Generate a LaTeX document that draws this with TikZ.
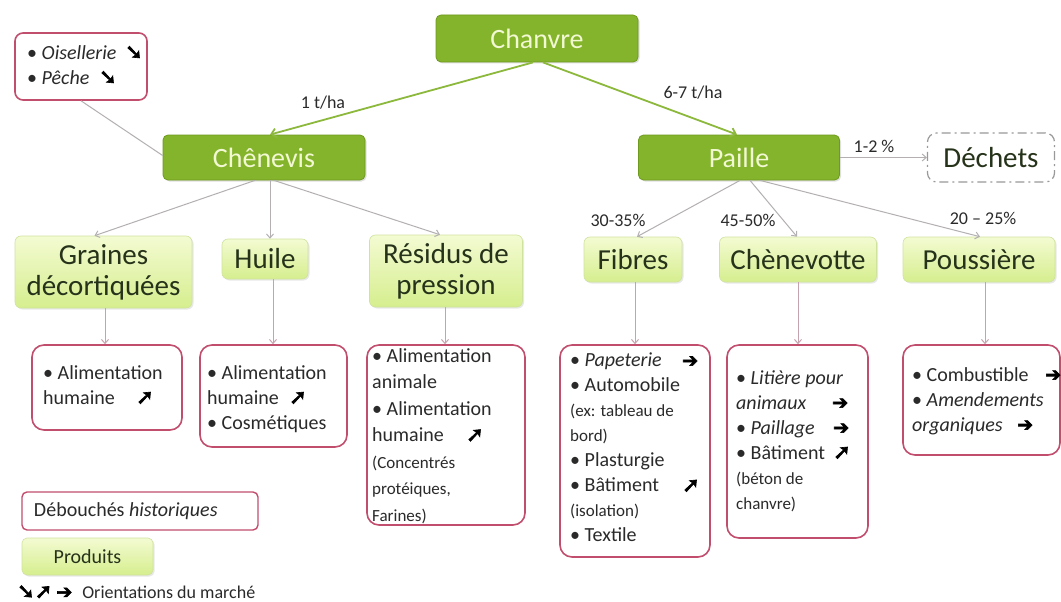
\documentclass[tikz,border=0pt]{standalone}
\usepackage{fontspec}
\setmainfont{Carlito}
\newfontfamily\dvheavy[FakeBold=3]{DejaVu Sans}
\usetikzlibrary{arrows.meta,shadows}
\definecolor{dgreen}{HTML}{84B42C}
\definecolor{dgreenb}{HTML}{6E9A1E}
\definecolor{dtext}{HTML}{F2F8D2}
\definecolor{lgA}{HTML}{F3FBD2}
\definecolor{lgB}{HTML}{D6EE8E}
\definecolor{lgb}{HTML}{CFE39E}
\definecolor{ltext}{HTML}{26331A}
\definecolor{pinkb}{HTML}{C24E6E}
\definecolor{txt}{HTML}{2A2A2A}
\definecolor{garr}{HTML}{8CB83C}
\definecolor{gline}{HTML}{B4B0B2}
\definecolor{pline}{HTML}{C4A2AE}
\newcommand\arrdn{{\dvheavy\fontsize{21}{21}\selectfont\color{black}➘}}
\newcommand\arrup{{\dvheavy\fontsize{21}{21}\selectfont\color{black}➚}}
\newcommand\arrrt{{\dvheavy\fontsize{19}{19}\selectfont\color{black}➔}}
\newcommand\smtxt{\fontsize{17}{22}\selectfont}
\newcommand\lw[2]{\makebox[#1pt][l]{#2}}
\tikzset{
  darkbox/.style={rectangle, rounded corners=5pt, fill=dgreen, draw=dgreenb, line width=0.8pt,
    text=dtext, font=\fontsize{28}{30}\selectfont, inner sep=0pt,
    drop shadow={opacity=0.25, shadow xshift=1.5pt, shadow yshift=-1.5pt}},
  lightbox/.style={rectangle, rounded corners=6pt, top color=lgA, bottom color=lgB, draw=lgb,
    line width=0.6pt, text=ltext, font=\fontsize{29}{31}\selectfont, align=center, inner sep=0pt,
    drop shadow={opacity=0.18, shadow xshift=1.5pt, shadow yshift=-1.5pt}},
  histbox/.style={rectangle, rounded corners=12pt, draw=pinkb, line width=1.6pt, fill=white, inner sep=0pt},
  histtext/.style={anchor=north west, inner sep=0pt, align=flush left, text width=160pt,
    font=\fontsize{20}{25}\selectfont, text=txt},
  lbl/.style={font=\fontsize{18}{20}\selectfont, text=txt, inner sep=0pt},
  garrow/.style={draw=garr, line width=1.8pt, -{Straight Barb[length=5pt,width=9pt]}},
  gconn/.style={draw=gline, line width=1pt, -{Straight Barb[length=4pt,width=7pt]}},
  pconn/.style={draw=pline, line width=1pt, -{Straight Barb[length=4pt,width=7pt]}},
}
\begin{document}
\begin{tikzpicture}[x=1pt,y=-1pt]
\path[use as bounding box, fill=white] (0,0) rectangle (1061,602);

% main nodes
\node[darkbox, minimum width=202pt, minimum height=47pt] (chanvre) at (537,38.5) {Chanvre};
\node[darkbox, minimum width=202pt, minimum height=45pt] (chenevis) at (264,157.5) {Chênevis};
\node[darkbox, minimum width=201pt, minimum height=45pt] (paille) at (739,157.5) {Paille};
\node[rectangle, rounded corners=9pt, draw=gray!80, line width=1.2pt, dash pattern=on 9pt off 4pt on 2pt off 4pt,
  minimum width=127pt, minimum height=49pt, inner sep=0pt, text=ltext, font=\fontsize{29}{31}\selectfont] (dechets) at (991,157.5) {Déchets};

% level 3
\node[lightbox, minimum width=177pt, minimum height=72pt] (graines) at (103.5,272) {Graines\\décortiquées};
\node[lightbox, minimum width=86pt, minimum height=40pt] (huile) at (265,259) {Huile};
\node[lightbox, minimum width=153pt, minimum height=72pt] (residus) at (446,271) {Résidus de\\pression};
\node[lightbox, minimum width=98pt, minimum height=45pt] (fibres) at (633,259.5) {Fibres};
\node[lightbox, minimum width=157pt, minimum height=45pt] (chenevotte) at (798,259.5) {Chènevotte};
\node[lightbox, minimum width=152pt, minimum height=45pt] (poussiere) at (979,259.5) {Poussière};

% level 4 boxes
\node[histbox, rounded corners=8pt, minimum width=132pt, minimum height=67pt] (oiseau) at (81,66.5) {};
\node[histbox, minimum width=150pt, minimum height=85pt] (d1) at (107,387.5) {};
\node[histbox, minimum width=147pt, minimum height=102pt] (d2) at (273.5,396) {};
\node[histbox, minimum width=158pt, minimum height=180pt] (d3) at (446,435) {};
\node[histbox, minimum width=150pt, minimum height=212pt] (d4) at (635,451) {};
\node[histbox, minimum width=141pt, minimum height=193pt] (d5) at (797.5,441.5) {};
\node[histbox, minimum width=157pt, minimum height=110pt] (d6) at (981.5,400) {};

% texts in boxes
\node[histtext] (t0) at (27,45) {\lw{98}{• \textit{Oisellerie}}\arrdn\\\lw{72}{• \textit{Pêche}}\arrdn};
\node[histtext] (t1) at (43,365) {• Alimentation\\\lw{93}{humaine}\arrup};
\node[histtext] (t2) at (207,365) {• Alimentation\\\lw{82}{humaine}\arrup\\• Cosmétiques};
\node[histtext, font=\fontsize{20}{26.5}\selectfont] (t3) at (372,348) {• Alimentation\\animale\\• Alimentation\\\lw{94}{humaine}\arrup\\{\smtxt (Concentrés}\\{\smtxt protéiques,}\\{\smtxt Farines)}};
\node[histtext] (t4) at (570,353) {\lw{112}{• \textit{Papeterie}}\arrrt\\• Automobile\\{\smtxt (ex: tableau de}\\{\smtxt bord)}\\• Plasturgie\\\lw{112}{• Bâtiment}\arrup\\{\smtxt (isolation)}\\• Textile};
\node[histtext] (t5) at (736,370) {• \textit{Litière pour}\\\lw{96}{\textit{animaux}}\arrrt\\\lw{97}{• \textit{Paillage}}\arrrt\\\lw{97}{• Bâtiment}\arrup\\{\smtxt (béton de}\\{\smtxt chanvre)}};
\node[histtext] (t6) at (912,367) {\lw{133}{• Combustible}\arrrt\\• \textit{Amendements}\\\lw{105}{\textit{organiques}}\arrrt};

% legend
\node[histbox, rounded corners=5pt, line width=1.4pt, minimum width=236pt, minimum height=38pt,
  text width=212pt, align=flush left, font=\fontsize{20}{24}\selectfont, text=txt] (leg1) at (140,511) {Débouchés \textit{historiques}};
\node[lightbox, rounded corners=5pt, minimum width=131pt, minimum height=37pt,
  font=\fontsize{20}{24}\selectfont] (leg2) at (87.5,556.5) {Produits};
\node[anchor=west, inner sep=0pt, font=\fontsize{18}{20}\selectfont, text=txt] (leg3) at (17,592)
  {\arrdn\arrup\hspace{4pt}\arrrt\hspace{10pt}Orientations du marché};

% connectors
\draw[garrow] ([xshift=-4pt]chanvre.south) -- ([xshift=6pt]chenevis.north);
\draw[garrow] ([xshift=6pt]chanvre.south) -- ([xshift=-2pt]paille.north);
\node[lbl] (l1) at (323,103) {1 t/ha};
\node[lbl] (l2) at (693,93) {6-7 t/ha};

\draw[draw=gline, line width=1pt] ([yshift=2pt]chenevis.west) -- (oiseau.south);
\draw[gconn] ([xshift=-9pt]chenevis.south) -- ([xshift=-9pt]graines.north);
\draw[gconn] ([xshift=6pt]chenevis.south) -- ([xshift=5pt]huile.north);
\draw[gconn] ([xshift=10pt]chenevis.south) -- ([xshift=-6pt]residus.north);

\draw[gconn] ([xshift=1pt]paille.south) -- ([xshift=4pt]fibres.north);
\draw[gconn] ([xshift=11pt]paille.south) -- ([xshift=-1pt]chenevotte.north);
\draw[gconn] ([xshift=21pt]paille.south) -- ([xshift=1pt]poussiere.north);
\draw[gconn] (paille.east) -- (dechets.west);
\node[lbl] (l3) at (618,220) {30-35\%};
\node[lbl] (l4) at (748,220) {45-50\%};
\node[lbl] (l5) at (983,218) {20 – 25\%};
\node[lbl] (l6) at (874,146) {1-2 \%};

\draw[pconn] ([xshift=1.5pt]graines.south) -- ([xshift=1.5pt]graines.south |- d1.north);
\draw[pconn] ([xshift=8pt]huile.south) -- ([xshift=8pt]huile.south |- d2.north);
\draw[pconn] ([xshift=-1pt]residus.south) -- ([xshift=-1pt]residus.south |- d3.north);
\draw[pconn] ([xshift=2pt]fibres.south) -- ([xshift=2pt]fibres.south |- d4.north);
\draw[pconn] (chenevotte.south) -- (chenevotte.south |- d5.north);
\draw[pconn] ([xshift=6pt]poussiere.south) -- ([xshift=6pt]poussiere.south |- d6.north);
\end{tikzpicture}
\end{document}
